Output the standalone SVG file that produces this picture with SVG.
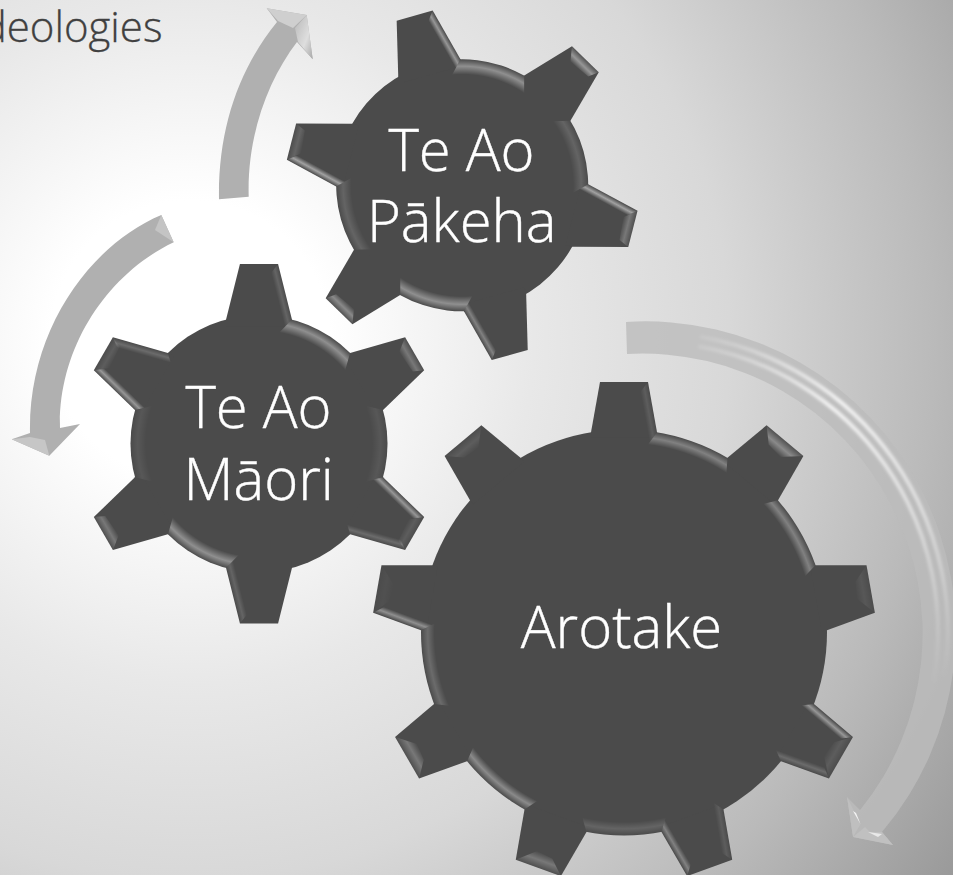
<svg xmlns="http://www.w3.org/2000/svg" width="953" height="875" viewBox="0 0 953 875">
<style>
.body{fill:#4b4b4b}
.lbl{font-family:"Open Sans","Noto Sans","Liberation Sans",sans-serif;font-size:58px;font-weight:300;fill:#fff;stroke:#fff;stroke-width:.4px;text-anchor:middle}
.cap{font-family:"Open Sans","Noto Sans","Liberation Sans",sans-serif;font-size:42px;font-weight:300;fill:#404040;stroke:#404040;stroke-width:.3px;text-anchor:end}
.shaft{fill:#b0b0b0}
.o05{opacity:.03}.o1{opacity:.07}.o15{opacity:.1}.o2{opacity:.14}.o25{opacity:.18}.o3{opacity:.25}.o35{opacity:.3}.o4{opacity:.35}.o45{opacity:.38}.o5{opacity:.42}.o55{opacity:.48}
</style>
<defs>
<radialGradient id="bg" gradientUnits="userSpaceOnUse" cx="190" cy="340" r="930">
<stop offset=".15" stop-color="#fff"/><stop offset=".37" stop-color="#e8e8e8"/><stop offset=".58" stop-color="#d8d8d8"/><stop offset=".8" stop-color="#bababa"/><stop offset="1" stop-color="#9a9a9a"/>
</radialGradient>
<linearGradient id="gSR" gradientUnits="userSpaceOnUse" x1="25.5" y1="-148.8" x2="17.2" y2="-146.7"><stop offset="0" stop-color="#fff" stop-opacity="0"/><stop offset=".5" stop-color="#fff"/><stop offset="1" stop-color="#fff" stop-opacity="0"/></linearGradient>
<linearGradient id="gSL" gradientUnits="userSpaceOnUse" x1="-25.5" y1="-148.8" x2="-17.2" y2="-146.7"><stop offset="0" stop-color="#fff" stop-opacity="0"/><stop offset=".5" stop-color="#fff"/><stop offset="1" stop-color="#fff" stop-opacity="0"/></linearGradient>
<linearGradient id="gST" gradientUnits="userSpaceOnUse" x1="0" y1="-176.2" x2="0" y2="-164"><stop offset="0" stop-color="#fff" stop-opacity=".1"/><stop offset=".5" stop-color="#fff"/><stop offset="1" stop-color="#fff" stop-opacity="0"/></linearGradient>
<radialGradient id="gSA" gradientUnits="userSpaceOnUse" cx="0" cy="0" r="126"><stop offset=".88" stop-color="#fff" stop-opacity="0"/><stop offset=".945" stop-color="#fff"/><stop offset="1" stop-color="#fff" stop-opacity="0"/></radialGradient>
<linearGradient id="gLR" gradientUnits="userSpaceOnUse" x1="28.5" y1="-224.5" x2="19.7" y2="-222.9"><stop offset="0" stop-color="#fff" stop-opacity="0"/><stop offset=".5" stop-color="#fff"/><stop offset="1" stop-color="#fff" stop-opacity="0"/></linearGradient>
<linearGradient id="gLL" gradientUnits="userSpaceOnUse" x1="-28.5" y1="-224.5" x2="-19.7" y2="-222.9"><stop offset="0" stop-color="#fff" stop-opacity="0"/><stop offset=".5" stop-color="#fff"/><stop offset="1" stop-color="#fff" stop-opacity="0"/></linearGradient>
<linearGradient id="gLT" gradientUnits="userSpaceOnUse" x1="0" y1="-250.5" x2="0" y2="-235"><stop offset="0" stop-color="#fff" stop-opacity=".1"/><stop offset=".5" stop-color="#fff"/><stop offset="1" stop-color="#fff" stop-opacity="0"/></linearGradient>
<radialGradient id="gLA" gradientUnits="userSpaceOnUse" cx="0" cy="0" r="203"><stop offset=".933" stop-color="#fff" stop-opacity="0"/><stop offset=".967" stop-color="#fff"/><stop offset="1" stop-color="#fff" stop-opacity="0"/></radialGradient>
<linearGradient id="gHead" x1="0" y1="0" x2="1" y2="1"><stop offset="0" stop-color="#b8b8b8"/><stop offset=".6" stop-color="#dedede"/><stop offset="1" stop-color="#a8a8a8"/></linearGradient>
<linearGradient id="gStripe" gradientUnits="userSpaceOnUse" x1="680" y1="330" x2="945" y2="680"><stop offset="0" stop-color="#fff" stop-opacity="0"/><stop offset=".35" stop-color="#fff" stop-opacity=".8"/><stop offset=".65" stop-color="#fff" stop-opacity=".5"/><stop offset="1" stop-color="#fff" stop-opacity="0"/></linearGradient>
<filter id="soft" x="-10%" y="-10%" width="120%" height="120%"><feGaussianBlur stdDeviation="1.6"/></filter>
<path id="ts" d="M-32.3-115L-32.3-121.8L-18.7-176.2H18.7L32.3-121.8L32.3-115Z"/>
<path id="sr" d="M18.7-176.2L32.3-121.8L20-109L12-167.6Z" fill="url(#gSR)"/>
<path id="sl" d="M-18.7-176.2L-32.3-121.8L-20-109L-12-167.6Z" fill="url(#gSL)"/>
<path id="st" d="M-18.7-176.2H18.7L14-166L-9-164Z" fill="url(#gST)"/>
<path id="sa" d="M32.3-121.8A126 126 0 0 1 89.3-88.9L84.4-71.8A110.8 110.8 0 0 0 20-109Z" fill="url(#gSA)"/>
<path id="tl" d="M-33-195L-33-200.3L-24-250.5H24L33-200.3L33-195Z"/>
<path id="lr" d="M24-250.5L33-200.3L24-188L16-240Z" fill="url(#gLR)"/>
<path id="ll" d="M-24-250.5L-33-200.3L-24-188L-16-240Z" fill="url(#gLL)"/>
<path id="lt" d="M-24-250.5H24L7-235L-10-237Z" fill="url(#gLT)"/>
<path id="la" d="M33-200.3A203 203 0 0 1 103.5-174.6L102.4-159.4A189.5 189.5 0 0 0 24-188Z" fill="url(#gLA)"/>
</defs>
<rect width="953" height="875" fill="url(#bg)"/>
<text class="cap" x="162.5" y="41.7">deologies</text>
<g id="connectors">
<g id="arrow-up">
<path class="shaft" d="M219 199.3C218 130 238 70 277 22L266.7 8.3L306.7 15L312.7 59.3L297 42C268 80 247 135 248.7 196.7Z"/>
<path d="M266.7 8.3L306.7 15L293 28L278 21Z" fill="#cfcfcf"/>
<path d="M306.7 15L312.7 59.3L298 42L295 28Z" fill="url(#gHead)"/>
</g>
<g id="arrow-left">
<path class="shaft" d="M161.3 215C90 245 28 330 30 433L11.7 439.3L49.3 455.7L80 424L60 428C58 350 105 275 173.7 242.3Z"/>
<path d="M11.7 439.3L49.3 455.7L45 440L30 437Z" fill="#c6c6c6"/>
<path d="M155 230L161.3 215L173.7 242.3Z" fill="#c4c4c4"/>
</g>
<g id="arrow-right">
<path d="M626 322A310 310 0 0 1 882 832L893 845L853 837L847 797L860 810A280 280 0 0 0 627 354Z" fill="#bcbcbc" opacity=".8"/>
<path d="M698.4 346.4A290 290 0 0 1 933.6 682.4" fill="none" stroke="url(#gStripe)" stroke-width="4" filter="url(#soft)"/>
<path d="M700.1 336.6A300 300 0 0 1 943.4 684.1" fill="none" stroke="url(#gStripe)" stroke-width="4" filter="url(#soft)"/>
<path d="M847 797L860.5 824L853 837Z" fill="#bfbfbf"/>
<path d="M853 811L860.5 824L856 813Z" fill="#f4f4f4"/>
<path d="M853 837L865 827L870 832L882 832L893 845Z" fill="#c0c0c0"/>
<path d="M868 832L882 834L878 837Z" fill="#e8e8e8"/>
</g>
</g>
<g id="gear-pakeha" transform="translate(462.2 185.3) rotate(-15.65)">
<circle class="body" r="126"/>
<use class="body" href="#ts"/><use class="body" href="#ts" transform="rotate(60)"/><use class="body" href="#ts" transform="rotate(120)"/><use class="body" href="#ts" transform="rotate(180)"/><use class="body" href="#ts" transform="rotate(240)"/><use class="body" href="#ts" transform="rotate(300)"/>
<use class="o5" href="#sr"/>
<use class="o45" href="#sa"/>
<use class="o5" href="#st" transform="rotate(60)"/>
<use class="o2" href="#sa" transform="rotate(60)"/>
<use class="o55" href="#sl" transform="rotate(120)"/><use class="o3" href="#st" transform="rotate(120)"/>
<use class="o35" href="#sr" transform="rotate(180)"/>
<use class="o45" href="#sa" transform="rotate(180)"/>
<use class="o4" href="#st" transform="rotate(240)"/>
<use class="o2" href="#sa" transform="rotate(240)"/>
<use class="o55" href="#sl" transform="rotate(300)"/><use class="o2" href="#st" transform="rotate(300)"/>
</g>
<g id="gear-maori" transform="translate(259 443.7) scale(1.02)">
<circle class="body" r="126"/>
<use class="body" href="#ts"/><use class="body" href="#ts" transform="rotate(60)"/><use class="body" href="#ts" transform="rotate(120)"/><use class="body" href="#ts" transform="rotate(180)"/><use class="body" href="#ts" transform="rotate(240)"/><use class="body" href="#ts" transform="rotate(300)"/>
<use class="o2" href="#sr"/>
<use class="o45" href="#sa"/>
<use class="o3" href="#st" transform="rotate(60)"/>
<use class="o1" href="#sa" transform="rotate(60)"/>
<use class="o5" href="#sl" transform="rotate(120)"/><use class="o25" href="#sr" transform="rotate(120)"/><use class="o15" href="#st" transform="rotate(120)"/>
<use class="o2" href="#sr" transform="rotate(180)"/>
<use class="o45" href="#sa" transform="rotate(180)"/>
<use class="o3" href="#st" transform="rotate(240)"/>
<use class="o1" href="#sa" transform="rotate(240)"/>
<use class="o5" href="#sl" transform="rotate(300)"/><use class="o25" href="#sr" transform="rotate(300)"/><use class="o15" href="#st" transform="rotate(300)"/>
</g>
<g id="gear-arotake" transform="translate(624 632.5)">
<circle class="body" r="203"/>
<use class="body" href="#tl"/><use class="body" href="#tl" transform="rotate(40)"/><use class="body" href="#tl" transform="rotate(80)"/><use class="body" href="#tl" transform="rotate(120)"/><use class="body" href="#tl" transform="rotate(160)"/><use class="body" href="#tl" transform="rotate(200)"/><use class="body" href="#tl" transform="rotate(240)"/><use class="body" href="#tl" transform="rotate(280)"/><use class="body" href="#tl" transform="rotate(320)"/>
<use class="o15" href="#lr"/>
<use class="o35" href="#la"/>
<use class="o4" href="#lt" transform="rotate(40)"/>
<use class="o35" href="#la" transform="rotate(40)"/>
<use class="o1" href="#lt" transform="rotate(80)"/>
<use class="o5" href="#ll" transform="rotate(120)"/><use class="o25" href="#lr" transform="rotate(120)"/><use class="o15" href="#lt" transform="rotate(120)"/>
<use class="o35" href="#lr" transform="rotate(160)"/><use class="o15" href="#ll" transform="rotate(160)"/>
<use class="o2" href="#la" transform="rotate(160)"/>
<use class="o3" href="#lt" transform="rotate(200)"/>
<use class="o4" href="#la" transform="rotate(200)"/>
<use class="o3" href="#lt" transform="rotate(240)"/>
<use class="o25" href="#la" transform="rotate(240)"/>
<use class="o45" href="#ll" transform="rotate(280)"/><use class="o05" href="#lt" transform="rotate(280)"/>
<use class="o15" href="#lt" transform="rotate(320)"/>
</g>
<g id="labels">
<text class="lbl" x="461.5" y="170.5">Te Ao</text>
<text class="lbl" x="461.7" y="241.5">Pākeha</text>
<text class="lbl" x="258.5" y="428.3">Te Ao</text>
<text class="lbl" x="258.7" y="500">Māori</text>
<text class="lbl" x="621.5" y="648">Arotake</text>
</g>
</svg>
